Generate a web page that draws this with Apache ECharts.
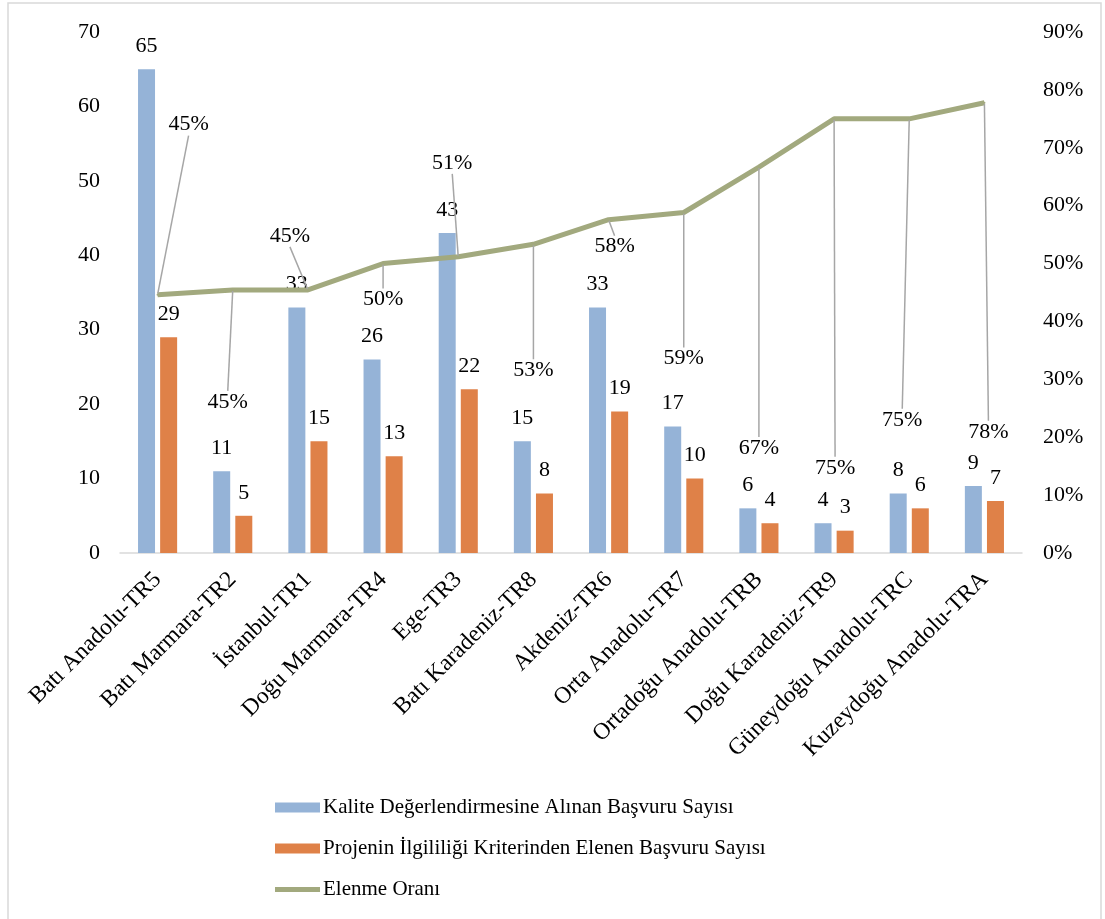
<!DOCTYPE html>
<html>
<head>
<meta charset="utf-8">
<script src="https://cdn.jsdelivr.net/npm/echarts@6/dist/echarts.min.js"></script>
<style>
  html, body { margin: 0; padding: 0; background: #fff; }
  #chart { width: 1105px; height: 919px; }
</style>
</head>
<body>
<div id="chart"></div>
<script>
// Regions (NUTS-1) and application counts
const regions = [
  'Batı Anadolu-TR5', 'Batı Marmara-TR2', 'İstanbul-TR1', 'Doğu Marmara-TR4',
  'Ege-TR3', 'Batı Karadeniz-TR8', 'Akdeniz-TR6', 'Orta Anadolu-TR7',
  'Ortadoğu Anadolu-TRB', 'Doğu Karadeniz-TR9', 'Güneydoğu Anadolu-TRC', 'Kuzeydoğu Anadolu-TRA'
];
const evaluated = [65, 11, 33, 26, 43, 15, 33, 17, 6, 4, 8, 9];
const eliminated = [29, 5, 15, 13, 22, 8, 19, 10, 4, 3, 6, 7];
// Elimination rate, percent
const rate = [44.62, 45.45, 45.45, 50.00, 51.16, 53.33, 57.58, 58.82, 66.67, 75.00, 75.00, 77.78];

const seriesNames = [
  'Kalite Değerlendirmesine Alınan Başvuru Sayısı',
  'Projenin İlgililiği Kriterinden Elenen Başvuru Sayısı',
  'Elenme Oranı'
];

// Callout offsets (px) of the rate labels relative to their points
const rateLabelShift = [
  [31, -170], [-5, 112], [-18, -54], [0, 36], [-6, -94], [0, 126],
  [6, 27], [0, 146], [0, 281], [1, 349], [-7, 301], [4, 329]
];

const FONT = '"Liberation Serif", "DejaVu Serif", serif';
const txt = { fontFamily: FONT, fontSize: 22, color: '#000' };
const LINE_COLOR = '#A2A97E';

const chart = echarts.init(document.getElementById('chart'));

chart.setOption({
  animation: false,
  backgroundColor: '#fff',
  graphic: [{
    type: 'rect',
    shape: { x: 8, y: 3, width: 1093, height: 930 },
    style: { fill: 'none', stroke: '#d9d9d9', lineWidth: 1.5 },
    silent: true
  }],
  grid: { left: 120, right: 83, top: 32, bottom: 366, containLabel: false },
  legend: {
    orient: 'vertical',
    left: 270,
    top: 792,
    itemWidth: 45,
    itemHeight: 10,
    itemGap: 20,
    textStyle: { fontFamily: FONT, fontSize: 21, color: '#000', padding: [0, 0, 0, -2] },
    data: [
      { name: seriesNames[0], icon: 'rect' },
      { name: seriesNames[1], icon: 'rect' },
      // thick line swatch: the leading moves pin the icon box to 45x10
      { name: seriesNames[2], icon: 'path://M0,0M45,10M0,2.5L45,2.5L45,7.5L0,7.5Z' }
    ]
  },
  xAxis: {
    type: 'category',
    data: regions,
    axisLine: { lineStyle: { color: '#d9d9d9', width: 1.5 } },
    axisTick: { show: false },
    axisLabel: { ...txt, fontSize: 23.5, rotate: 45, interval: 0, margin: 23 }
  },
  yAxis: [{
    type: 'value',
    min: 0, max: 70, interval: 10,
    splitLine: { show: false },
    axisLine: { show: false },
    axisTick: { show: false },
    axisLabel: { ...txt, margin: 20 }
  }, {
    type: 'value',
    min: 0, max: 90, interval: 10,
    splitLine: { show: false },
    axisLine: { show: false },
    axisTick: { show: false },
    axisLabel: { ...txt, margin: 21, formatter: '{value}%' }
  }],
  series: [{
    name: seriesNames[0],
    type: 'bar',
    data: evaluated,
    barWidth: 17,
    barGap: '30%',
    itemStyle: { color: '#95B3D7' },
    label: { show: true, position: 'top', distance: 12, ...txt }
  }, {
    name: seriesNames[1],
    type: 'bar',
    data: eliminated,
    barWidth: 17,
    barGap: '30%',
    itemStyle: { color: '#DF8148' },
    label: { show: true, position: 'top', distance: 12, ...txt }
  }, {
    name: seriesNames[2],
    type: 'line',
    yAxisIndex: 1,
    data: rate,
    symbol: 'circle',
    symbolSize: 2,
    showSymbol: true,
    lineStyle: { color: LINE_COLOR, width: 5 },
    itemStyle: { color: LINE_COLOR },
    z: 3,
    label: {
      show: true,
      ...txt,
      formatter: p => Math.round(p.value) + '%'
    },
    labelLine: { show: true, lineStyle: { color: '#a6a6a6', width: 1.5 } },
    labelLayout: p => {
      const s = rateLabelShift[p.dataIndex];
      const cx = p.rect.x + p.rect.width / 2;
      const cy = p.rect.y + p.rect.height / 2;
      return { x: cx + s[0], y: cy + s[1], align: 'center', verticalAlign: 'middle' };
    }
  }]
});
</script>
</body>
</html>
